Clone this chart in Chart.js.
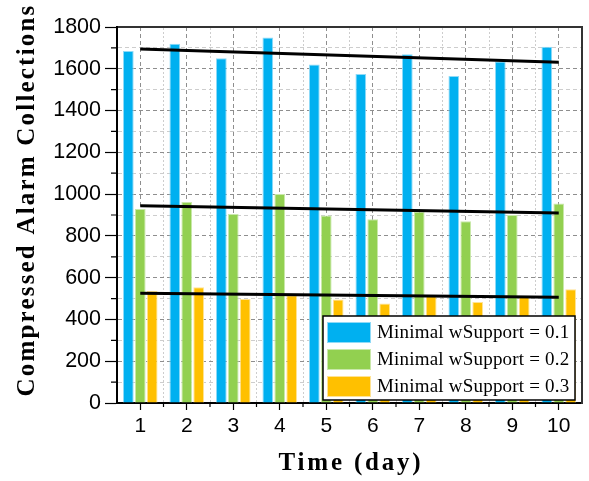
<!DOCTYPE html>
<html>
<head>
<meta charset="utf-8">
<script src="https://cdn.jsdelivr.net/npm/chart.js@4"></script>
<style>
  html, body { margin: 0; padding: 0; background: #fff; }
  #wrap { width: 589px; height: 481px; position: relative; }
</style>
</head>
<body>
<div id="wrap"><canvas id="chart"></canvas></div>
<script>
const days = ["1", "2", "3", "4", "5", "6", "7", "8", "9", "10"];

const support01 = [1685, 1720, 1650, 1750, 1620, 1575, 1670, 1565, 1635, 1705];
const support02 = [929, 962, 905, 1000, 898, 880, 915, 870, 900, 955];
const support03 = [536, 554, 498, 516, 495, 476, 512, 484, 512, 545];

const trend01 = [1695, 1631];
const trend02 = [944, 910];
const trend03 = [525, 506];

const seriesLabels = ["Minimal wSupport = 0.1", "Minimal wSupport = 0.2", "Minimal wSupport = 0.3"];
const fillColors = ["#00b0f0", "#92d050", "#ffc000"];
const edgeColors = ["#8fdaf7", "#c9e8aa", "#ffe394"];

const yTitle = "Compressed Alarm Collections";
const xTitle = "Time (day)";

// nur Anfangs- und Endpunkt, dazwischen Lücken
function trendLine(ends) {
  return days.map((d, i) => {
    if (i === 0) return ends[0];
    if (i === days.length - 1) return ends[1];
    return null;
  });
}

function barSet(i, values) {
  return {
    type: "bar",
    label: seriesLabels[i],
    data: values,
    backgroundColor: fillColors[i],
    borderColor: edgeColors[i],
    borderWidth: 1,
    categoryPercentage: 0.77,
    barPercentage: 0.9,
    order: 2
  };
}

function lineSet(ends) {
  return {
    type: "line",
    label: "",
    data: trendLine(ends),
    borderColor: "#000",
    borderWidth: 3,
    pointRadius: 0,
    spanGaps: true,
    fill: false,
    order: 0
  };
}

// kleine Zwischenstriche, Achsentitel und Legende
const extras = {
  id: "extras",
  afterDraw(chart) {
    const ctx = chart.ctx;
    const x = chart.scales.x;
    const y = chart.scales.y;
    const area = chart.chartArea;

    ctx.save();
    ctx.strokeStyle = "#000";
    ctx.lineWidth = 1.2;
    ctx.beginPath();
    for (let i = 0; i < days.length - 1; i++) {
      const px = (x.getPixelForValue(i) + x.getPixelForValue(i + 1)) / 2;
      ctx.moveTo(px, area.bottom);
      ctx.lineTo(px, area.bottom + 4);
    }
    for (let v = 100; v < 1800; v += 200) {
      const py = y.getPixelForValue(v);
      ctx.moveTo(area.left, py);
      ctx.lineTo(area.left - 6, py);
    }
    ctx.stroke();

    // Achsentitel
    ctx.fillStyle = "#000";
    ctx.font = "bold 25px 'Liberation Serif', 'Times New Roman', serif";
    ctx.textAlign = "center";
    ctx.textBaseline = "middle";
    ctx.letterSpacing = "2.8px";
    ctx.fillText(xTitle, (area.left + area.right) / 2 + 1.5, 464);

    ctx.save();
    ctx.translate(28, 201);
    ctx.rotate(-Math.PI / 2);
    ctx.letterSpacing = "2.2px";
    ctx.fillText(yTitle, 1, 0);
    ctx.restore();

    // Legende
    const box = { left: 323, top: 316, right: 575, bottom: 400 };
    ctx.fillStyle = "#fff";
    ctx.fillRect(box.left, box.top, box.right - box.left, box.bottom - box.top);
    ctx.strokeStyle = "#000";
    ctx.lineWidth = 1.5;
    ctx.strokeRect(box.left, box.top, box.right - box.left, box.bottom - box.top);

    ctx.font = "19px 'Liberation Serif', 'Times New Roman', serif";
    ctx.textAlign = "left";
    ctx.letterSpacing = "0.2px";
    const bars = chart.data.datasets.filter(d => d.type === "bar");
    bars.forEach((d, i) => {
      const cy = 332 + i * 27;
      ctx.fillStyle = d.backgroundColor;
      ctx.fillRect(327, cy - 10, 44, 21);
      ctx.strokeStyle = d.borderColor;
      ctx.lineWidth = 1;
      ctx.strokeRect(327.5, cy - 9.5, 43, 20);
      ctx.fillStyle = "#000";
      ctx.fillText(d.label, 377, cy + 1);
    });
    ctx.restore();
  }
};

new Chart(document.getElementById("chart"), {
  data: {
    labels: days,
    datasets: [
      barSet(0, support01),
      barSet(1, support02),
      barSet(2, support03),
      lineSet(trend01),
      lineSet(trend02),
      lineSet(trend03)
    ]
  },
  options: {
    responsive: true,
    maintainAspectRatio: false,
    animation: false,
    layout: { padding: { top: 27, right: 7, left: 0, bottom: 0 } },
    plugins: {
      legend: { display: false },
      tooltip: { enabled: false }
    },
    scales: {
      x: {
        type: "category",
        position: "bottom",
        offset: true,
        grid: {
          offset: false,
          color: "#8e8e8e",
          lineWidth: 1,
          tickColor: "#000",
          tickLength: 7,
          tickWidth: 1.2
        },
        border: { color: "#000", width: 2, dash: [4, 3] },
        ticks: {
          color: "#000",
          font: { family: "'Liberation Sans', Arial, sans-serif", size: 21 },
          padding: 4,
          autoSkip: false,
          maxRotation: 0
        },
        afterFit(scale) { scale.height = 78; }
      },
      x2: {
        type: "category",
        position: "top",
        offset: true,
        grid: {
          offset: true,
          color: "#cdcdcd",
          lineWidth: 1,
          drawTicks: false
        },
        border: { color: "#333", width: 2, dash: [2, 2] },
        ticks: { display: false },
        afterFit(scale) { scale.height = 0; }
      },
      y: {
        type: "linear",
        position: "left",
        min: 0,
        max: 1800,
        grid: {
          color: c => (c.tick && c.tick.value % 200 === 0) ? "#8e8e8e" : "#cdcdcd",
          tickColor: c => (c.tick && c.tick.value % 200 === 0) ? "#000" : "rgba(0,0,0,0)",
          tickLength: 12,
          tickWidth: 1.2
        },
        border: { color: "#000", width: 2, dash: [4, 3] },
        ticks: {
          stepSize: 100,
          autoSkip: false,
          color: "#000",
          padding: 4,
          font: { family: "'Liberation Sans', Arial, sans-serif", size: 21.5 },
          callback: v => (v % 200 === 0 ? v : "")
        },
        afterFit(scale) { scale.width = 117; }
      },
      y2: {
        type: "linear",
        position: "right",
        min: 0,
        max: 1800,
        grid: { display: false, drawTicks: false },
        border: { color: "#333", width: 2 },
        ticks: { display: false },
        afterFit(scale) { scale.width = 0; }
      }
    }
  },
  plugins: [extras]
});
</script>
</body>
</html>
